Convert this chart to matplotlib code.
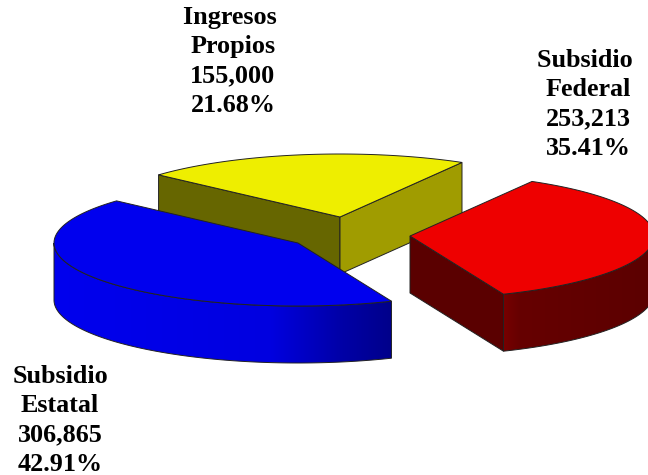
import numpy as np
import matplotlib
matplotlib.use("Agg")
import matplotlib.pyplot as plt
from matplotlib.patches import Polygon
from matplotlib.colors import to_rgb

names = ["Subsidio \nFederal", "Subsidio\nEstatal", "Ingresos \nPropios"]
values = [253213, 306865, 155000]
shares = ["35.41%", "42.91%", "21.68%"]
value_labels = ["253,213", "306,865", "155,000"]

START = 60.0
RX, RY, DEPTH = 244.0, 63.0, 57.0
OUT = "#222222"
apex = [(410, 236), (298, 243), (340, 217)]
top_col = ["#EE0000", "#0000EE", "#EEEE00"]
wall_stops = [
    [(505, "#760000"), (520, "#660000"), (648, "#5C0000")],
    [(53, "#0000EE"), (270, "#0000E0"), (340, "#0000A8"), (392, "#00008A")],
    None,
]
cut_a = [None, None, "#666600"]        # wall at the start edge of a slice
cut_b = ["#5A0000", None, "#A09C00"]   # wall at the end edge of a slice
label_xy = [(588, 67), (60, 383), (233, 24)]
LINE = 29.3

fig = plt.figure(figsize=(6.48, 4.75), dpi=100)
ax = fig.add_axes([0, 0, 1, 1])

fracs = np.array(values, float) / sum(values)
edges = START - 360 * np.concatenate([[0], np.cumsum(fracs)])


def pts(c, a):
    a = np.radians(a)
    return np.column_stack([c[0] + RX * np.cos(a), c[1] - RY * np.sin(a)])


def draw_cut(c, a, col, z):
    e = pts(c, [a])[0]
    ax.add_patch(Polygon([c, e, (e[0], e[1] + DEPTH), (c[0], c[1] + DEPTH)],
                         closed=True, fc=col, ec=OUT, lw=0.7, zorder=z))


for i, z in zip([2, 0, 1], [1, 2, 3]):
    c = apex[i]
    a0, a1 = edges[i], edges[i + 1]
    if cut_a[i]:
        draw_cut(c, a0, cut_a[i], z)
    if cut_b[i]:
        draw_cut(c, a1, cut_b[i], z)
    if wall_stops[i]:
        # outer wall: only the part facing the viewer
        lo, hi = max(a1, -180), min(a0, 0)
        p = pts(c, np.linspace(lo, hi, 200))
        low = p + [0, DEPTH]
        outline = np.vstack([p, low[::-1]])
        poly = Polygon(outline, closed=True, fc="none", ec=OUT, lw=0.7, zorder=z + 0.2)
        ax.add_patch(poly)
        xs = np.arange(0, 649)
        sx = [s[0] for s in wall_stops[i]]
        rgb = np.array([to_rgb(s[1]) for s in wall_stops[i]])
        grad = np.stack([np.interp(xs, sx, rgb[:, k]) for k in range(3)], axis=-1)[None, :, :]
        im = ax.imshow(grad, extent=(0, 648, 475, 0), aspect="auto", zorder=z + 0.1,
                       interpolation="bilinear")
        im.set_clip_path(poly)
    arc = pts(c, np.linspace(a0, a1, 200))
    ax.add_patch(Polygon(np.vstack([[c], arc]), closed=True, fc=top_col[i],
                         ec=OUT, lw=0.7, zorder=z + 0.5))

ax.set_xlim(0, 648)
ax.set_ylim(475, 0)
ax.axis("off")

for name, val, sh, (x, y) in zip(names, value_labels, shares, label_xy):
    lines = name.split("\n") + [val, sh]
    for k, s in enumerate(lines):
        ax.text(x, y + k * LINE, s, ha="center", va="baseline",
                family="Liberation Serif", weight="bold", fontsize=18.8, color="black")

fig.savefig("out.png", dpi=100, facecolor="white")
